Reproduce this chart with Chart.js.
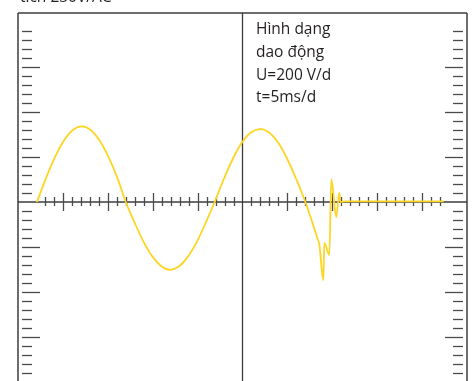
<!DOCTYPE html>
<html>
<head>
<meta charset="utf-8">
<script src="https://cdn.jsdelivr.net/npm/chart.js@4.4.1/dist/chart.umd.min.js"></script>
<style>
  body { margin: 0; background: #fff; overflow: hidden; }
  #wrap { position: relative; width: 473px; height: 381px; overflow: hidden; }
  #scope { position: absolute; left: 0; top: 0; }
  .txt { position: absolute; font-family: 'Open Sans', sans-serif; font-size: 15.5px; color: #231f20; white-space: nowrap; }
  #title { left: 20px; top: -15px; line-height: 22px; }
  #note { left: 256px; top: 17px; line-height: 22.8px; }
</style>
</head>
<body>
<div id="wrap">
  <canvas id="scope" width="473" height="400"></canvas>
  <div class="txt" id="title">tích 230V/AC</div>
  <div class="txt" id="note">Hình dạng<br>dao động<br>U=200 V/d<br>t=5ms/d</div>
</div>
<script>
// Globals - waveform (time in ms, voltage in V)
var timesMs = [-22.9, -21.9, -20.9, -19.9, -18.9, -17.9, -16.9, -15.9, -14.9, -13.9, -13.0,
  -12.0, -11.0, -10.0, -9.0, -8.1, -7.1, -6.1, -5.1, -4.1, -3.1,
  -2.1, -1.1, -0.1, 0.9, 2.0, 3.0, 4.0, 5.0, 6.0, 7.0,
  8.33, 8.56, 9.0, 9.11, 9.67, 9.89, 10.44, 10.78, 10.9, 11.5, 22.4];
var voltsV = [0, 104, 198, 272, 320, 336, 320, 272, 198, 104, 0,
  -93, -178, -244, -287, -302, -287, -244, -178, -93, 0,
  100, 190, 262, 308, 324, 308, 262, 190, 100, 0,
  -160, -191, -347, -182, -236, 102, -67, 40, 0, 3, 3];

// screen settings of the scope
var msPerDiv = 5;
var voltPerDiv = 200;
var minorPerDiv = 5;
var timeRange = [-25, 25];
var voltRange = [-840, 840];

var points = [];
for (var i = 0; i < timesMs.length; i++) {
  points.push({ x: timesMs[i], y: voltsV[i] });
}

function line(ctx, x1, y1, x2, y2) {
  ctx.beginPath();
  ctx.moveTo(x1, y1);
  ctx.lineTo(x2, y2);
  ctx.stroke();
}

// graticule drawn from the chart's own scales
var graticule = {
  id: 'graticule',
  beforeDatasetsDraw: function (chart) {
    var ctx = chart.ctx;
    var area = chart.chartArea;
    var xs = chart.scales.x;
    var ys = chart.scales.y;
    var x0 = xs.getPixelForValue(0);
    var y0 = ys.getPixelForValue(0);
    var tStep = msPerDiv / minorPerDiv;
    var vStep = voltPerDiv / minorPerDiv;
    ctx.save();
    ctx.strokeStyle = '#3c3c3c';
    ctx.lineWidth = 1.5;
    line(ctx, area.left, area.bottom, area.left, area.top);
    line(ctx, area.left, area.top, area.right, area.top);
    line(ctx, area.right, area.top, area.right, area.bottom);
    ctx.lineWidth = 1.3;
    line(ctx, x0, area.top, x0, area.bottom);
    line(ctx, area.left, y0, area.right, y0);

    ctx.strokeStyle = '#4a4a4a';
    ctx.lineWidth = 1.3;
    // ticks on the time axis
    for (var k = -22; k <= 22; k++) {
      if (k === 0) continue;
      var px = Math.round(xs.getPixelForValue(k * tStep)) + 0.5;
      if (k % minorPerDiv === 0) line(ctx, px, y0 - 9, px, y0 + 9);
      else line(ctx, px, y0 - 5, px, y0 + 4);
    }
    // ticks along the left and right edges
    for (var j = -19; j <= 19; j++) {
      if (j === 0) continue;
      var py = Math.round(ys.getPixelForValue(j * vStep)) + 0.5;
      var major = j % minorPerDiv === 0;
      line(ctx, area.left + 4, py, area.left + (major ? 22 : 14), py);
      line(ctx, area.right - 4, py, area.right - (major ? 22 : 14), py);
    }
    ctx.restore();
  }
};

var ctx = document.getElementById('scope').getContext('2d');
var scopeChart = new Chart(ctx, {
  type: 'line',
  data: {
    datasets: [{
      data: points,
      borderColor: '#fdd523',
      borderWidth: 1.8,
      pointRadius: 0,
      fill: false,
      cubicInterpolationMode: 'monotone'
    }]
  },
  options: {
    responsive: false,
    animation: false,
    layout: { padding: { left: 18, right: 6, top: 13, bottom: 9 } },
    plugins: { legend: { display: false }, tooltip: { enabled: false } },
    scales: {
      x: { type: 'linear', min: timeRange[0], max: timeRange[1], display: false },
      y: { min: voltRange[0], max: voltRange[1], display: false }
    }
  },
  plugins: [graticule]
});
</script>
</body>
</html>
